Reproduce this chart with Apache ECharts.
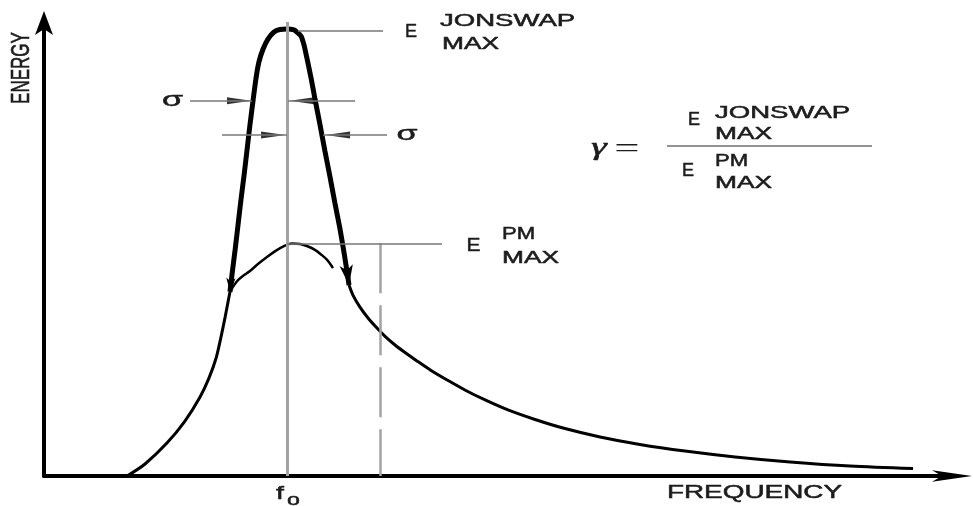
<!DOCTYPE html>
<html>
<head>
<meta charset="utf-8">
<script src="https://cdn.jsdelivr.net/npm/echarts/dist/echarts.min.js"></script>
<style>html,body{margin:0;background:#fff}#chart{width:973px;height:506px}</style>
</head>
<body>
<div id="chart"></div>
<script>
// frequency in units of f0, energy in units of the PM maximum
var riseF = [0.341, 0.415, 0.505, 0.579, 0.641, 0.678, 0.707, 0.727, 0.744, 0.756, 0.764];
var riseE = [0.000, 0.053, 0.145, 0.242, 0.348, 0.432, 0.520, 0.612, 0.700, 0.767, 0.811];

var pmArcF = [0.764, 0.781, 0.797, 0.817, 0.846, 0.879, 0.916, 0.953, 0.986, 1.019, 1.052, 1.085, 1.113, 1.138, 1.163, 1.187];
var pmArcE = [0.811, 0.841, 0.863, 0.881, 0.903, 0.934, 0.965, 0.993, 1.013, 1.024, 1.022, 1.011, 0.996, 0.976, 0.952, 0.916];

var jonswapF = [0.764, 0.772, 0.785, 0.797, 0.809, 0.822, 0.834, 0.846, 0.859, 0.871,
                0.883, 0.900, 0.920, 0.945, 0.969, 0.998, 1.027, 1.043,
                1.056, 1.068, 1.080, 1.097, 1.114, 1.134, 1.154, 1.175, 1.195, 1.216,
                1.232, 1.245, 1.253];
var jonswapE = [0.811, 0.885, 0.996, 1.106, 1.216, 1.326, 1.436, 1.546, 1.656, 1.753,
                1.824, 1.881, 1.925, 1.956, 1.967, 1.969, 1.965, 1.952,
                1.938, 1.899, 1.841, 1.753, 1.656, 1.546, 1.432, 1.317, 1.203, 1.088,
                0.987, 0.899, 0.841];

var tailF = [1.253, 1.269, 1.298, 1.331, 1.364, 1.401, 1.442, 1.483, 1.532, 1.590, 1.656, 1.729,
             1.812, 1.906, 2.017, 2.140, 2.284, 2.448, 2.633, 2.839, 3.065, 3.311, 3.570];
var tailE = [0.841, 0.797, 0.744, 0.696, 0.656, 0.615, 0.577, 0.544, 0.507, 0.465, 0.423, 0.379,
             0.335, 0.291, 0.249, 0.209, 0.172, 0.139, 0.110, 0.084, 0.062, 0.044, 0.033];

var f0 = 1.0;
var fDashed = 1.38;
var pmMax = 1.025;
var jonswapMax = 1.963;
var topE = 2.0;

// sigma dimension lines: [fromF, toF, E]
var sigmaLines = [[0.600, 0.854, 1.653], [1.002, 1.278, 1.653], [0.731, 0.998, 1.502], [1.146, 1.409, 1.502]];
// sigma arrow heads: [F, E], direction
var sigmaArrows = [[0.801, 1.653], [1.060, 1.653], [0.941, 1.502], [1.208, 1.502]];
var sigmaArrowDir = ['right', 'left', 'right', 'left'];

function pts(fs, es) {
    return fs.map(function (f, i) { return [f, es[i]]; });
}

var jsData = pts(jonswapF, jonswapE);
jsData[0] = { value: jsData[0], symbol: 'arrow', symbolSize: [7, 14], symbolRotate: 176 };
jsData[jsData.length - 1] = { value: jsData[jsData.length - 1], symbol: 'arrow', symbolSize: [10, 20], symbolRotate: 188 };

var gray = '#a3a3a3';
var thin = '#777777';

var guides = [
    [{ coord: [f0, 0], lineStyle: { color: gray, width: 3, type: 'solid' } }, { coord: [f0, topE] }],
    [{ coord: [fDashed, pmMax], lineStyle: { color: gray, width: 2.5, type: [50, 12] } }, { coord: [fDashed, 0] }],
    [{ coord: [1.043, jonswapMax], lineStyle: { color: thin, width: 1.5, type: 'solid' } }, { coord: [1.393, jonswapMax] }],
    [{ coord: [0.998, pmMax], lineStyle: { color: thin, width: 1.5, type: 'solid' } }, { coord: [1.635, pmMax] }]
];
sigmaLines.forEach(function (s) {
    guides.push([{ coord: [s[0], s[2]], lineStyle: { color: thin, width: 1.5, type: 'solid' } }, { coord: [s[1], s[2]] }]);
});

var sans = '"Liberation Sans", Arial, sans-serif';
var ink = '#1c1c1c';
function txt(s, x, y, size, sx, align) {
    return {
        type: 'text', x: x, y: y, scaleX: sx, silent: true,
        style: {
            text: s, fontSize: size, fontFamily: sans, fill: ink, stroke: ink, lineWidth: 0.5,
            align: align || 'left', verticalAlign: 'middle'
        }
    };
}

var chart = echarts.init(document.getElementById('chart'));
var option = {
    animation: false,
    backgroundColor: '#ffffff',
    grid: { left: 44, top: 22, width: 908, height: 454 },
    xAxis: {
        type: 'value', min: 0, max: 3.73,
        axisLine: {
            lineStyle: { color: '#000', width: 4 },
            symbol: ['none', 'arrow'], symbolSize: [8.5, 40], symbolOffset: [0, 20]
        },
        axisTick: { show: false }, axisLabel: { show: false }, splitLine: { show: false }
    },
    yAxis: {
        type: 'value', min: 0, max: topE,
        axisLine: {
            show: true, lineStyle: { color: '#000', width: 4 },
            symbol: ['none', 'arrow'], symbolSize: [13.5, 24], symbolOffset: [0, 11]
        },
        axisTick: { show: false }, axisLabel: { show: false }, splitLine: { show: false }
    },
    series: [
        {
            name: 'rise', type: 'line', data: pts(riseF, riseE), smooth: 0.3, symbol: 'none',
            lineStyle: { color: '#000', width: 3 }
        },
        {
            name: 'PM', type: 'line', data: pts(pmArcF, pmArcE), smooth: 0.3, symbol: 'none',
            lineStyle: { color: '#000', width: 2.5 },
            markLine: {
                silent: true, symbol: 'none', label: { show: false }, emphasis: { disabled: true },
                animation: false, data: guides
            }
        },
        {
            name: 'JONSWAP', type: 'line', data: jsData, smooth: 0.2, symbol: 'none', showSymbol: true,
            itemStyle: { color: '#000' },
            lineStyle: { color: '#000', width: 5 }
        },
        {
            name: 'tail', type: 'line', data: pts(tailF, tailE), smooth: 0.3, symbol: 'none',
            lineStyle: { color: '#000', width: 3 }
        },
        {
            name: 'sigma', type: 'scatter', silent: true,
            data: sigmaArrows.map(function (p, i) {
                return { value: p, symbolRotate: sigmaArrowDir[i] === 'right' ? -90 : 90 };
            }),
            symbol: 'triangle', symbolSize: [7, 24],
            itemStyle: { color: '#000' }
        }
    ],
    graphic: [
        {
            type: 'text', x: 21.5, y: 68, rotation: Math.PI / 2, scaleY: 1.5, silent: true,
            style: {
                text: 'ENERGY', fontSize: 17, fontFamily: sans, fill: ink, stroke: ink, lineWidth: 0.4,
                align: 'center', verticalAlign: 'middle'
            }
        },
        txt('FREQUENCY', 754.5, 493.5, 18, 1.55, 'center'),
        txt('f', 280, 494, 19, 1.5, 'center'),
        txt('o', 293.5, 500.5, 16, 1.45, 'center'),
        txt('σ', 172.5, 100, 20, 1.7, 'center'),
        txt('σ', 407, 134.5, 20, 1.7, 'center'),
        txt('E', 411, 32.5, 18, 1.0, 'center'),
        txt('JONSWAP', 440, 21, 17, 1.62),
        txt('MAX', 442, 44, 17, 1.55),
        txt('E', 473.5, 245.5, 19, 1.1, 'center'),
        txt('PM', 502, 234, 17, 1.3),
        txt('MAX', 502, 258.5, 17, 1.55),
        {
            type: 'text', x: 599, y: 148, scaleX: 1.5, silent: true,
            style: {
                text: 'γ', fontSize: 26, fontFamily: '"Liberation Serif", serif', fontStyle: 'italic',
                fill: ink, stroke: ink, lineWidth: 0.6, align: 'center', verticalAlign: 'middle'
            }
        },
        {
            type: 'text', x: 627, y: 150, scaleX: 1.6, silent: true,
            style: { text: '=', fontSize: 28, fontFamily: '"Liberation Serif", serif', fill: ink, align: 'center', verticalAlign: 'middle' }
        },
        txt('E', 694, 120, 18, 1.0, 'center'),
        txt('JONSWAP', 715, 113.5, 17, 1.62),
        txt('MAX', 715, 134.5, 17, 1.55),
        { type: 'line', silent: true, shape: { x1: 667, y1: 146, x2: 872, y2: 146 }, style: { stroke: '#6e6e6e', lineWidth: 1.5 } },
        txt('E', 688, 171, 18, 1.0, 'center'),
        txt('PM', 715, 161.5, 17, 1.3),
        txt('MAX', 715, 183.5, 17, 1.55)
    ]
};
chart.setOption(option);
</script>
</body>
</html>
